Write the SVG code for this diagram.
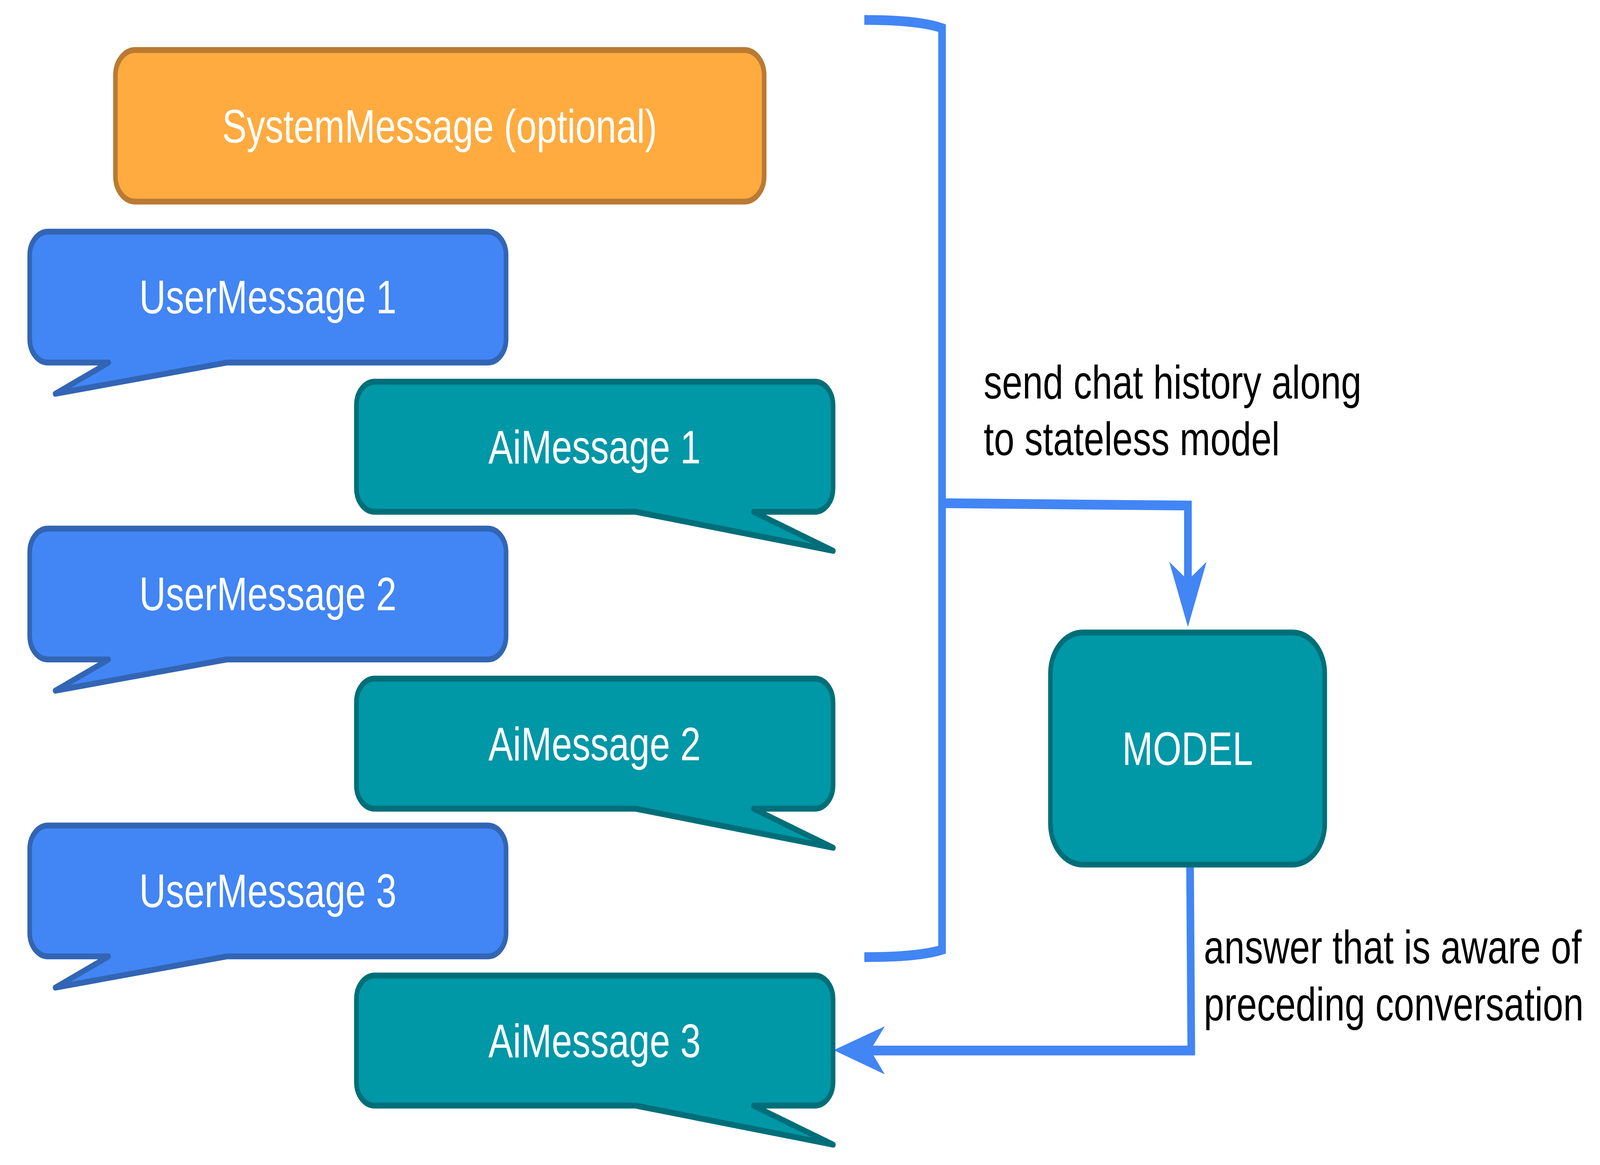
<svg xmlns="http://www.w3.org/2000/svg" width="5226" height="2982" viewBox="0 0 5226 2982" preserveAspectRatio="none">
<style>
svg{width:100vw;height:100vh;display:block}
.sys{fill:#FFAB40;stroke:#B97A33;stroke-width:15;stroke-linejoin:round}
.user{fill:#4285F4;stroke:#3265B4;stroke-width:15;stroke-linejoin:round}
.ai{fill:#0097A7;stroke:#006E78;stroke-width:15;stroke-linejoin:round}
.nt{font-family:"Liberation Sans",Arial,sans-serif;font-size:120px;fill:#FFFFFF;text-anchor:middle}
.lbl{font-family:"Liberation Sans",Arial,sans-serif;font-size:120px;fill:#000000}
.wire{fill:none;stroke:#4285F4;stroke-width:25}
.head{fill:#4285F4;stroke:none}
</style>
<defs>
<path id="userShape" d="M157,593 H1593 A60,60 0 0 1 1653,653 V868 A60,60 0 0 1 1593,928 H741 L180,1008 L355,928 H157 A60,60 0 0 1 97,868 V653 A60,60 0 0 1 157,593 Z"/>
<path id="aiShape" d="M1224,977 H2661 A60,60 0 0 1 2721,1037 V1250 A60,60 0 0 1 2661,1310 H2461 L2722,1410 L2076,1310 H1224 A60,60 0 0 1 1164,1250 V1037 A60,60 0 0 1 1224,977 Z"/>
</defs>
<rect width="5226" height="2982" fill="#FFFFFF"/>
<g id="connectors">
<path class="wire" d="M2823,51 Q3000,51 3077,72 V2431 Q3000,2450 2823,2450"/>
<path class="wire" d="M3077,1288 L3880,1294 V1495"/>
<polygon class="head" points="3880,1605 3819,1438 3880,1485 3941,1438"/>
<path class="wire" d="M3887,2215 L3891,2689 H2840"/>
<polygon class="head" points="2723,2688 2890,2627 2843,2688 2890,2750"/>
</g>
<g id="system-message">
<rect class="sys" x="377" y="128" width="2119" height="388" rx="65" ry="65"/>
<text class="nt" x="1436" y="365">SystemMessage (optional)</text>
</g>
<g id="user-message-1">
<use href="#userShape" class="user"/>
<text class="nt" x="875" y="802">UserMessage 1</text>
</g>
<g id="ai-message-1">
<use href="#aiShape" class="ai"/>
<text class="nt" x="1942" y="1186">AiMessage 1</text>
</g>
<g id="user-message-2" transform="translate(0,760)">
<use href="#userShape" class="user"/>
<text class="nt" x="875" y="802">UserMessage 2</text>
</g>
<g id="ai-message-2" transform="translate(0,760)">
<use href="#aiShape" class="ai"/>
<text class="nt" x="1942" y="1186">AiMessage 2</text>
</g>
<g id="user-message-3" transform="translate(0,1520)">
<use href="#userShape" class="user"/>
<text class="nt" x="875" y="802">UserMessage 3</text>
</g>
<g id="ai-message-3" transform="translate(0,1520)">
<use href="#aiShape" class="ai"/>
<text class="nt" x="1942" y="1186">AiMessage 3</text>
</g>
<g id="model">
<rect class="ai" x="3431" y="1619" width="896" height="594" rx="105" ry="105"/>
<text class="nt" x="3879" y="1958">MODEL</text>
</g>
<g id="labels">
<text class="lbl" x="3213" y="1020">send chat history along</text>
<text class="lbl" x="3213" y="1165">to stateless model</text>
<text class="lbl" x="3932" y="2466">answer that is aware of</text>
<text class="lbl" x="3932" y="2612">preceding conversation</text>
</g>
</svg>
